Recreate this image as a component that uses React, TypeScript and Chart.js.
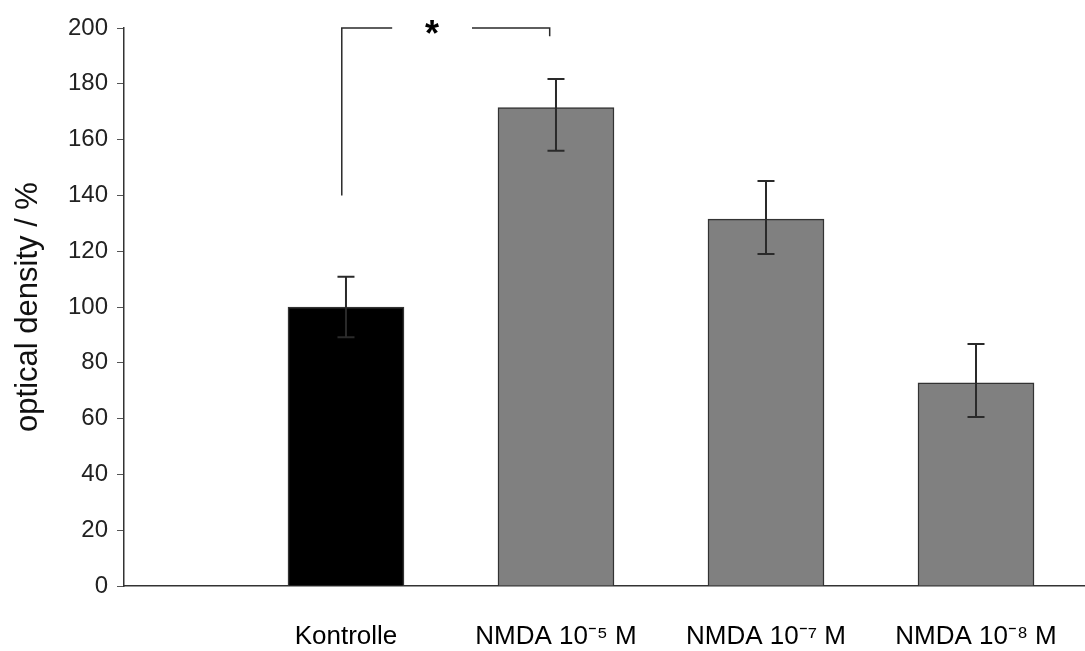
import React, { useEffect, useRef } from 'react';
import { Chart, registerables } from 'chart.js';

Chart.register(...registerables);

// ---- data ----
const categories = ['Kontrolle', 'NMDA 10⁻⁵ M', 'NMDA 10⁻⁷ M', 'NMDA 10⁻⁸ M'];
const positions = [1, 2, 3, 4];
const means = [100, 171.5, 131.5, 72.8];
const errUpper = [110.8, 181.7, 145.2, 86.7];
const errLower = [89.2, 156, 119, 60.6];
const barColors = ['#000000', '#808080', '#808080', '#808080'];
const yTickValues = [0, 20, 40, 60, 80, 100, 120, 140, 160, 180, 200];
const yTitle = 'optical density / %';
// significance bracket: x positions (category units) and y values (data units)
const bracketX = [0.98, 1.97];
const bracketY = [140, 200, 197];
const bracketGapX = [1.22, 1.6];
const bracketLabel = '*';

const FONT = "'Liberation Sans', Arial, sans-serif";

const errorBarPlugin = {
  id: 'errorBars',
  afterDatasetsDraw(chart: any) {
    const ctx = chart.ctx;
    const meta = chart.getDatasetMeta(0);
    const y = chart.scales.y;
    ctx.save();
    ctx.strokeStyle = '#2a2a2a';
    ctx.lineWidth = 2;
    meta.data.forEach((bar: any, i: number) => {
      const x = bar.x;
      const yt = y.getPixelForValue(errUpper[i]);
      const yb = y.getPixelForValue(errLower[i]);
      const cap = 8.5;
      ctx.beginPath();
      ctx.moveTo(x, yt);
      ctx.lineTo(x, yb);
      ctx.moveTo(x - cap, yt);
      ctx.lineTo(x + cap, yt);
      ctx.moveTo(x - cap, yb);
      ctx.lineTo(x + cap, yb);
      ctx.stroke();
    });
    ctx.restore();
  },
};

const bracketPlugin = {
  id: 'bracket',
  afterDatasetsDraw(chart: any) {
    const ctx = chart.ctx;
    const xs = chart.scales.x;
    const ys = chart.scales.y;
    const x1 = xs.getPixelForValue(bracketX[0]);
    const x2 = xs.getPixelForValue(bracketX[1]);
    const g1 = xs.getPixelForValue(bracketGapX[0]);
    const g2 = xs.getPixelForValue(bracketGapX[1]);
    const yLow = ys.getPixelForValue(bracketY[0]);
    const yTop = ys.getPixelForValue(bracketY[1]);
    const yR = ys.getPixelForValue(bracketY[2]);
    ctx.save();
    ctx.strokeStyle = '#2a2a2a';
    ctx.lineWidth = 1.5;
    ctx.beginPath();
    ctx.moveTo(x1, yLow);
    ctx.lineTo(x1, yTop);
    ctx.lineTo(g1, yTop);
    ctx.moveTo(g2, yTop);
    ctx.lineTo(x2, yTop);
    ctx.lineTo(x2, yR);
    ctx.stroke();
    ctx.fillStyle = '#000';
    ctx.font = `bold 36px ${FONT}`;
    ctx.textAlign = 'center';
    ctx.textBaseline = 'alphabetic';
    ctx.fillText(bracketLabel, (g1 + g2) / 2, yTop + 18);
    ctx.restore();
  },
};

export default function App() {
  const ref = useRef<HTMLCanvasElement>(null);
  useEffect(() => {
    if (!ref.current) return;
    const chart = new Chart(ref.current, {
      type: 'bar',
      data: {
        datasets: [
          {
            data: positions.map((x, i) => ({ x, y: means[i] })),
            backgroundColor: barColors,
            borderColor: '#333333',
            borderWidth: 1.5,
            barThickness: 116,
          } as any,
        ],
      },
      options: {
        animation: false,
        responsive: false,
        layout: { padding: { top: 28, right: 0, left: 0, bottom: 0 } },
        plugins: { legend: { display: false }, tooltip: { enabled: false } },
        scales: {
          x: {
            type: 'linear',
            offset: false,
            min: -0.057,
            max: 4.519,
            afterBuildTicks: (s: any) => {
              s.ticks = positions.map((v) => ({ value: v }));
            },
            afterFit: (s: any) => {
              s.height = 65;
              s.paddingLeft = 0;
              s.paddingRight = 0;
            },
            grid: { display: false, drawTicks: false, offset: false },
            border: { display: true, color: '#333', width: 1.5 },
            ticks: {
              callback: (v: any) => {
                const idx = positions.indexOf(Number(v));
                return idx >= 0 ? categories[idx] : '';
              },
              font: { family: FONT, size: 26 },
              color: '#000',
              padding: 35,
              maxRotation: 0,
              autoSkip: false,
            },
          } as any,
          y: {
            min: 0,
            max: 200,
            afterBuildTicks: (s: any) => {
              s.ticks = yTickValues.map((v) => ({ value: v }));
            },
            afterFit: (s: any) => {
              s.width = 124;
            },
            grid: { drawOnChartArea: false, drawTicks: true, tickLength: 7, color: '#555' },
            border: { display: true, color: '#333', width: 1.5 },
            ticks: {
              font: { family: "'Liberation Sans Narrow', 'Arial Narrow', " + FONT, size: 24 },
              color: '#222',
              padding: 9,
            },
            title: {
              display: true,
              text: yTitle,
              font: { family: FONT, size: 31 },
              color: '#111',
              padding: { top: 10, bottom: 0 },
            },
          },
        },
      },
      plugins: [errorBarPlugin, bracketPlugin],
    });
    return () => chart.destroy();
  }, []);
  return (
    <div style={{ position: 'fixed', left: 0, top: 0, width: 1085, height: 651, background: '#fff' }}>
      <canvas ref={ref} width={1085} height={651} style={{ display: 'block' }} />
    </div>
  );
}
